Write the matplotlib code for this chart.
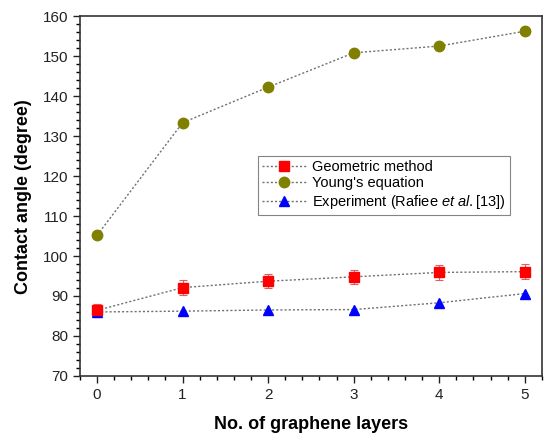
import matplotlib
matplotlib.use("Agg")
import matplotlib.pyplot as plt
from matplotlib.ticker import MultipleLocator

plt.rcParams['font.family'] = ['Liberation Sans', 'DejaVu Sans']
plt.rcParams['mathtext.fontset'] = 'custom'
plt.rcParams['mathtext.it'] = 'Liberation Sans:italic'
plt.rcParams['mathtext.rm'] = 'Liberation Sans'

layers = [0, 1, 2, 3, 4, 5]
geometric = [86.4, 92.1, 93.7, 94.8, 95.9, 96.1]
geometric_err = [1.7, 1.8, 1.8, 1.8, 1.8, 1.8]
young = [105.2, 133.4, 142.3, 150.9, 152.6, 156.3]
experiment = [86.0, 86.2, 86.5, 86.6, 88.3, 90.6]

fig = plt.figure(figsize=(5.44, 4.34), dpi=100)
ax = fig.add_axes([0.147, 0.134, 0.849, 0.828])

line_kw = dict(color='#707070', linestyle=(0, (1.5, 1.5)), linewidth=1.0)
h1 = ax.errorbar(layers, geometric, yerr=geometric_err, marker='s', markersize=6.5,
                 markerfacecolor='#ff0000', markeredgecolor='#ff0000',
                 ecolor='#e06060', elinewidth=0.8, capsize=3, capthick=0.8,
                 label='Geometric method', **line_kw)
h2, = ax.plot(layers, young, marker='o', markersize=7.5, markerfacecolor='#808000',
              markeredgecolor='#808000', label="Young's equation", **line_kw)
h3, = ax.plot(layers, experiment, marker='^', markersize=7.5, markerfacecolor='#0000ff',
              markeredgecolor='#0000ff',
              label=r'Experiment (Rafiee $\it{et\ al.}$[13])', **line_kw)

ax.set_xlim(-0.2, 5.2)
ax.set_ylim(70, 160)
ax.xaxis.set_major_locator(MultipleLocator(1))
ax.xaxis.set_minor_locator(MultipleLocator(0.2))
ax.yaxis.set_major_locator(MultipleLocator(10))
ax.yaxis.set_minor_locator(MultipleLocator(2))
ax.tick_params(which='major', direction='out', length=5, width=1, labelsize=11, colors='#222222')
ax.tick_params(which='minor', direction='out', length=3, width=1)
for s in ax.spines.values():
    s.set_linewidth(1.2)
    s.set_color('#333333')

ax.set_xlabel('No. of graphene layers', fontsize=13, fontweight='bold', labelpad=10)
ax.set_ylabel('Contact angle (degree)', fontsize=13, fontweight='bold', labelpad=8)

leg = ax.legend(handles=[h1[0], h2, h3],
                labels=['Geometric method', "Young's equation",
                        r'Experiment (Rafiee $\it{et\ al.}$[13])'],
                loc='upper left', bbox_to_anchor=(0.385, 0.612),
                fontsize=10.5, numpoints=1, handlelength=3, frameon=True, fancybox=False,
                borderpad=0.3, labelspacing=0.15, handletextpad=0.4, borderaxespad=0)
leg.get_frame().set_edgecolor('#666666')
leg.get_frame().set_linewidth(0.8)

fig.savefig('out.png', dpi=100)
